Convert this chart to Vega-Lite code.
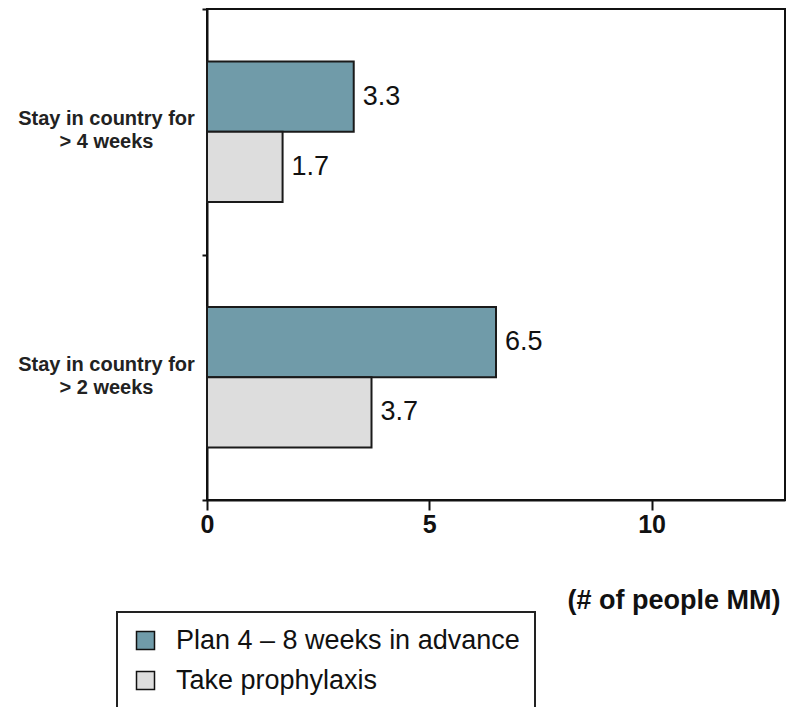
{
  "$schema": "https://vega.github.io/schema/vega-lite/v6.json",
  "width": 578,
  "height": 491,
  "autosize": {"type": "none"},
  "padding": {"left": 207, "top": 9, "right": 11, "bottom": 207},
  "background": "white",
  "config": {
    "font": "Liberation Sans",
    "view": {"stroke": "#111", "strokeWidth": 2}
  },
  "data": {
    "values": [
      {"group": "Stay in country for > 4 weeks", "series": "Plan 4 – 8 weeks in advance", "value": 3.3},
      {"group": "Stay in country for > 4 weeks", "series": "Take prophylaxis", "value": 1.7},
      {"group": "Stay in country for > 2 weeks", "series": "Plan 4 – 8 weeks in advance", "value": 6.5},
      {"group": "Stay in country for > 2 weeks", "series": "Take prophylaxis", "value": 3.7}
    ]
  },
  "encoding": {
    "y": {
      "field": "group",
      "type": "nominal",
      "sort": ["Stay in country for > 4 weeks", "Stay in country for > 2 weeks"],
      "scale": {"paddingInner": 0, "paddingOuter": 0},
      "axis": {
        "title": null,
        "domainColor": "#111",
        "domainWidth": 2,
        "tickColor": "#111",
        "tickWidth": 2,
        "tickSize": 5,
        "tickBand": "extent",
        "labelExpr": "datum.label ? ['Stay in country for', replace(datum.label, 'Stay in country for ', '')] : ''",
        "labelAlign": "center",
        "labelBaseline": "middle",
        "labelOffset": -13,
        "labelPadding": 96,
        "labelFont": "Liberation Sans",
        "labelFontSize": 20,
        "labelFontWeight": "bold",
        "labelLineHeight": 23,
        "labelColor": "#222",
        "labelLimit": 300
      }
    },
    "yOffset": {
      "field": "series",
      "type": "nominal",
      "sort": ["Plan 4 – 8 weeks in advance", "Take prophylaxis"],
      "scale": {"paddingInner": 0, "paddingOuter": 0.75}
    },
    "x": {
      "field": "value",
      "type": "quantitative",
      "scale": {"domain": [0, 13], "nice": false, "zero": true},
      "axis": {
        "title": "(# of people MM)",
        "values": [0, 5, 10],
        "grid": false,
        "domainColor": "#111",
        "domainWidth": 2,
        "tickColor": "#111",
        "tickWidth": 2,
        "tickSize": 10,
        "labelPadding": 2,
        "labelFont": "Liberation Sans",
        "labelFontSize": 25,
        "labelFontWeight": "bold",
        "labelColor": "#111",
        "labelFlush": false,
        "titleFont": "Liberation Sans",
        "titleFontSize": 27,
        "titleFontWeight": "bold",
        "titleColor": "#111",
        "titleAnchor": "end",
        "titleAlign": "right",
        "titleBaseline": "alphabetic",
        "titleX": 573,
        "titleY": 108
      }
    }
  },
  "layer": [
    {
      "mark": {"type": "bar", "stroke": "#1a1a1a", "strokeWidth": 2},
      "encoding": {
        "color": {
          "field": "series",
          "type": "nominal",
          "scale": {
            "domain": ["Plan 4 – 8 weeks in advance", "Take prophylaxis"],
            "range": ["#709ba9", "#dddddd"]
          },
          "legend": {
            "title": null,
            "orient": "none",
            "legendX": -90,
            "legendY": 603,
            "direction": "vertical",
            "strokeColor": "#222",
            "fillColor": "white",
            "padding": 15,
            "symbolType": "square",
            "symbolSize": 324,
            "symbolStrokeColor": "#111",
            "symbolStrokeWidth": 1.5,
            "symbolOpacity": 1,
            "labelFont": "Liberation Sans",
            "labelFontSize": 27,
            "labelColor": "#111",
            "labelOffset": 17,
            "labelLimit": 400,
            "rowPadding": 12,
            "encode": {
              "legend": {
                "update": {
                  "strokeWidth": {"value": 2}
                }
              },
              "symbols": {
                "update": {
                  "fill": [
                    {"test": "datum.value === 'Plan 4 – 8 weeks in advance'", "value": "#2f7489"},
                    {"value": "#dddddd"}
                  ],
                  "stroke": {"value": "#111"}
                }
              }
            }
          }
        }
      }
    },
    {
      "mark": {
        "type": "text",
        "align": "left",
        "baseline": "middle",
        "dx": 9,
        "font": "Liberation Sans",
        "fontSize": 27,
        "color": "#111"
      },
      "encoding": {
        "text": {"field": "value", "type": "quantitative", "format": ".1f"}
      }
    }
  ]
}
